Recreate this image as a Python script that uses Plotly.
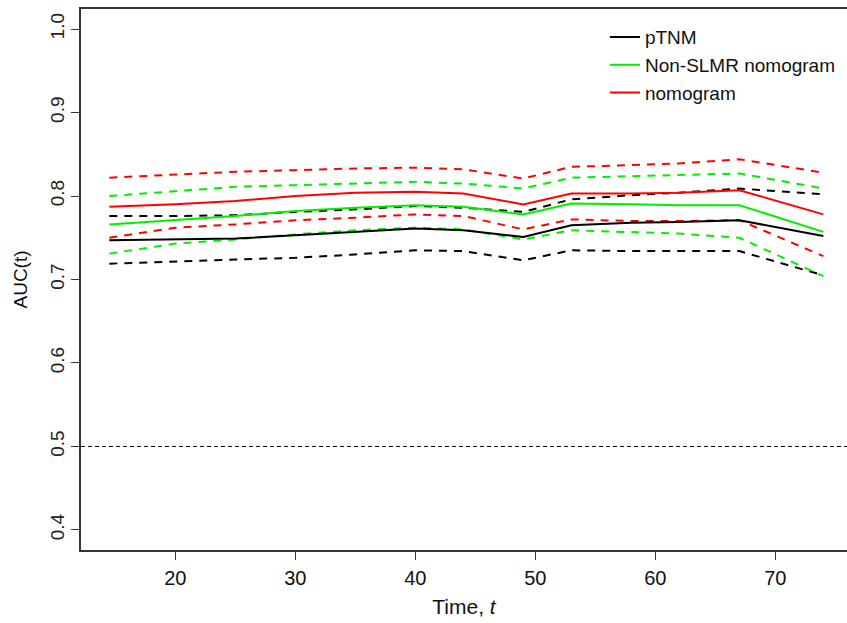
import plotly.graph_objects as go

# ---- data ----
time_t = [14.5, 20, 25, 30, 35, 40, 44, 49, 53, 58, 62, 67, 74]

ptnm_auc   = [0.747, 0.748, 0.749, 0.753, 0.757, 0.761, 0.759, 0.751, 0.765, 0.768, 0.769, 0.771, 0.752]
ptnm_upper = [0.776, 0.776, 0.777, 0.781, 0.784, 0.788, 0.786, 0.781, 0.796, 0.801, 0.804, 0.809, 0.802]
ptnm_lower = [0.719, 0.722, 0.724, 0.726, 0.730, 0.735, 0.734, 0.723, 0.735, 0.734, 0.734, 0.734, 0.705]

nonslmr_auc   = [0.766, 0.771, 0.776, 0.782, 0.786, 0.789, 0.787, 0.778, 0.791, 0.790, 0.789, 0.789, 0.757]
nonslmr_upper = [0.800, 0.806, 0.811, 0.813, 0.815, 0.817, 0.815, 0.809, 0.822, 0.824, 0.825, 0.827, 0.809]
nonslmr_lower = [0.731, 0.743, 0.748, 0.754, 0.759, 0.762, 0.760, 0.748, 0.759, 0.757, 0.755, 0.750, 0.704]

nomo_auc   = [0.787, 0.790, 0.794, 0.800, 0.804, 0.805, 0.803, 0.790, 0.803, 0.803, 0.804, 0.807, 0.778]
nomo_upper = [0.822, 0.826, 0.829, 0.831, 0.833, 0.834, 0.832, 0.821, 0.835, 0.837, 0.839, 0.844, 0.828]
nomo_lower = [0.750, 0.762, 0.766, 0.771, 0.774, 0.778, 0.776, 0.760, 0.772, 0.770, 0.770, 0.771, 0.728]

series_names = ["pTNM", "Non-SLMR nomogram", "nomogram"]
x_ticks = [20, 30, 40, 50, 60, 70]
y_ticks = [0.4, 0.5, 0.6, 0.7, 0.8, 0.9, 1.0]
y_tick_text = ["0.4", "0.5", "0.6", "0.7", "0.8", "0.9", "1.0"]
reference_auc = 0.5

FONT = "Liberation Sans, Arial, sans-serif"
colors = ["#000000", "#00ee00", "#ff0000"]
DASH = "8px,7px"

fig = go.Figure()

groups = [
    (ptnm_auc, ptnm_upper, ptnm_lower),
    (nonslmr_auc, nonslmr_upper, nonslmr_lower),
    (nomo_auc, nomo_upper, nomo_lower),
]

# dashed CI lines first
for (auc, up, lo), col, name in zip(groups, colors, series_names):
    for band in (up, lo):
        fig.add_trace(go.Scatter(x=time_t, y=band, mode="lines",
                                 line=dict(color=col, width=2, dash=DASH),
                                 showlegend=False, hoverinfo="skip"))
# solid AUC lines
for (auc, up, lo), col, name in zip(groups, colors, series_names):
    fig.add_trace(go.Scatter(x=time_t, y=auc, mode="lines", name=name,
                             line=dict(color=col, width=2)))

fig.add_hline(y=reference_auc, line=dict(color="#000000", width=1, dash="4px,3px"))

fig.update_layout(
    width=847, height=623,
    margin=dict(l=81, r=0, t=9, b=73),
    paper_bgcolor="white", plot_bgcolor="white",
    font=dict(family=FONT, color="#111111"),
    showlegend=True,
    legend=dict(x=0.684, y=0.983, xanchor="left", yanchor="top",
                bgcolor="rgba(0,0,0,0)", borderwidth=0,
                font=dict(size=19, family=FONT, color="#111111"),
                traceorder="normal"),
    xaxis=dict(range=[12.14, 75.97], tickmode="array", tickvals=x_ticks,
               ticktext=[str(v) for v in x_ticks], automargin=False,
               showgrid=False, zeroline=False,
               showline=True, linecolor="#333333", linewidth=1.5, mirror=True,
               ticks="outside", ticklen=8, tickcolor="#333333", tickwidth=1.2,
               tickfont=dict(size=20, family=FONT, color="#111111"),
               ticklabelstandoff=1,
               title=dict(text="Time, <i>t</i>", font=dict(size=21, family=FONT, color="#111111"),
                          standoff=12)),
    yaxis=dict(range=[0.376, 1.024], tickmode="array", tickvals=y_ticks,
               ticktext=y_tick_text, automargin=False,
               showgrid=False, zeroline=False,
               showline=True, linecolor="#333333", linewidth=1.5,
               ticks="outside", ticklen=8, tickcolor="#333333", tickwidth=1.2,
               tickangle=-90,
               tickfont=dict(size=19, family=FONT, color="#222222"),
               title=dict(text="AUC(t)", font=dict(size=19, family=FONT, color="#111111"),
                          standoff=14)),
)

fig.write_html("out.html", config={"displayModeBar": False},
               post_script="document.body.style.margin='0';document.body.style.overflow='hidden';")
